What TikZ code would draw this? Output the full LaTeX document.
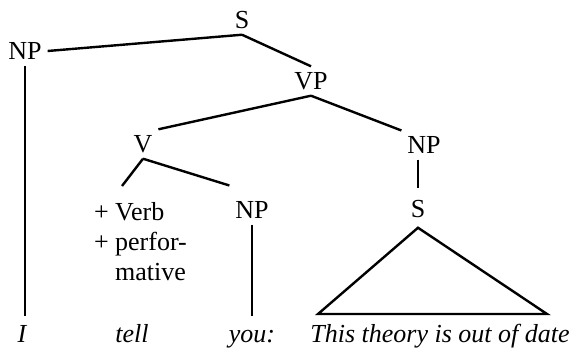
\documentclass[tikz,border=0pt]{standalone}
\usepackage{fontspec}
\setmainfont{Liberation Serif}
\usetikzlibrary{positioning,calc}

\tikzset{
  cat/.style={inner sep=1pt, outer sep=2pt, font=\fontsize{13}{15}\selectfont},
  word/.style={anchor=base, inner sep=1pt, outer sep=4pt, text height=8pt, text depth=2pt,
               font=\fontsize{13}{15}\selectfont\itshape},
  branch/.style={line width=1.2pt},
}

\begin{document}
\begin{tikzpicture}[x=0.5pt, y=-0.5pt]
  \useasboundingbox (0,0) rectangle (571,348);

  % categories
  \node[cat] (S)   at (242,20)  {S};
  \node[cat] (NPa) at (25,51)   {NP};
  \node[cat] (VP)  at (311,81)  {VP};
  \node[cat] (V)   at (143,144) {V};
  \node[cat] (NPb) at (424,145) {NP};
  \node[cat] (NPc) at (252,210) {NP};
  \node[cat] (S2)  at (418,209) {S};
  \node[cat, align=left, anchor=north west] (feat) at (88,196)
    {+ Verb\\+ perfor-\\\phantom{+ }mative};

  % words
  \node[word] (wI)    at (22,342)  {I};
  \node[word] (wtell) at (132,342) {tell};
  \node[word] (wyou)  at (252,342) {you:};
  \node[word] (wrest) at (440,342) {This theory is out of date};

  \coordinate (tl) at (318,314);
  \coordinate (tr) at (547,314);

  % branches
  \draw[branch] (NPa.east) -- (S.south);
  \draw[branch] (S.south) -- (VP.north);
  \draw[branch] (VP.south) -- (V.north east);
  \draw[branch] (VP.south) -- (NPb.north west);
  \draw[branch] (V.south) -- ([xshift=17pt,yshift=5pt]feat.north west);
  \draw[branch] (V.south) -- ([yshift=5pt]NPc.north west);
  \draw[branch] (NPb.south -| S2.north) -- ([yshift=3pt]S2.north);
  \draw[branch] ([yshift=-2pt]S2.south) -- (tl) -- (tr) -- cycle;
  \draw[branch] (NPa.south) -- (NPa.south |- wI.north);
  \draw[branch] (NPc.south) -- (NPc.south |- wyou.north);
\end{tikzpicture}
\end{document}
